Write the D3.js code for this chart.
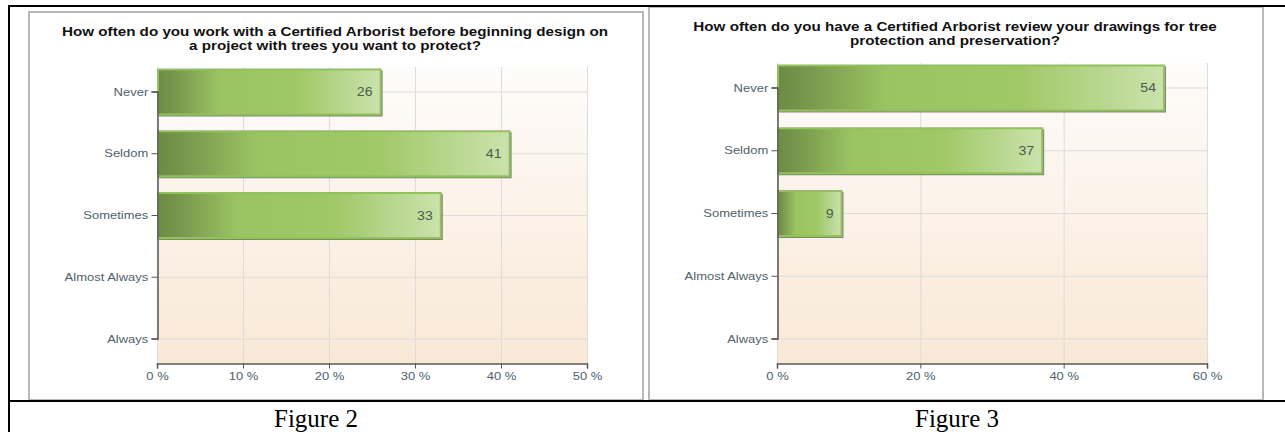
<!DOCTYPE html>
<html>
<head>
<meta charset="utf-8">
<script src="https://cdn.jsdelivr.net/npm/d3@7"></script>
<style>
  html, body { margin: 0; padding: 0; background: #fff; }
  svg { display: block; }
</style>
</head>
<body>
<svg id="page" width="1285" height="432"></svg>
<script>
// Survey answers (percent of respondents)
const categories = ["Never", "Seldom", "Sometimes", "Almost Always", "Always"];
const workBeforeDesign = [26, 41, 33, 0, 0];
const reviewDrawings = [54, 37, 9, 0, 0];

// Axis ticks
const ticksFig2 = [0, 10, 20, 30, 40, 50];
const ticksFig3 = [0, 20, 40, 60];

// Titles and captions
const titleFig2 = ["How often do you work with a Certified Arborist before beginning design on",
                   "a project with trees you want to protect?"];
const titleFig3 = ["How often do you have a Certified Arborist review your drawings for tree",
                   "protection and preservation?"];
const captions = ["Figure 2", "Figure 3"];

const svg = d3.select("#page");
const defs = svg.append("defs");

// Plot background: near-white at top fading to peach
const bg = defs.append("linearGradient").attr("id", "plotBg")
  .attr("x1", 0).attr("y1", 0).attr("x2", 0).attr("y2", 1);
bg.append("stop").attr("offset", "0%").attr("stop-color", "#fefcfa");
bg.append("stop").attr("offset", "100%").attr("stop-color", "#f9e8d6");

// Bar fill: dark olive on the left, mid green body, pale green toward the end
const bar = defs.append("linearGradient").attr("id", "barFill")
  .attr("x1", 0).attr("y1", 0).attr("x2", 1).attr("y2", 0);
[["0%", "#6c8a45"], ["10%", "#7c9c4f"], ["28%", "#9ac462"], ["62%", "#9fc866"], ["100%", "#cbe2ad"]]
  .forEach(([o, c]) => bar.append("stop").attr("offset", o).attr("stop-color", c));

const FONT = "'Liberation Sans', Arial, sans-serif";
const LABEL = "#4f5f6c";
const STRETCH = 1.16;   // chart lettering is set slightly wide

function drawChart(cfg) {
  const g = svg.append("g");

  // Chart frame
  g.append("rect")
    .attr("x", cfg.box[0]).attr("y", cfg.box[1])
    .attr("width", cfg.box[2] - cfg.box[0]).attr("height", cfg.box[3] - cfg.box[1])
    .attr("fill", "#fff").attr("stroke", "#b8b8b8").attr("stroke-width", 2);

  // Title
  cfg.title.forEach((line, i) => {
    g.append("text")
      .attr("transform", `translate(${cfg.titleX},${cfg.titleY + i * 14}) scale(${STRETCH},1)`)
      .attr("text-anchor", "middle")
      .attr("font-family", FONT).attr("font-weight", "bold").attr("font-size", 13.1)
      .attr("fill", "#111").text(line);
  });

  const x = d3.scaleLinear().domain([0, cfg.max]).range([cfg.left, cfg.right]);
  const y = d3.scalePoint().domain(categories).range([cfg.top + 24.5, cfg.bottom - 24.5]);

  // Plot area
  g.append("rect")
    .attr("x", cfg.left).attr("y", cfg.top)
    .attr("width", cfg.right - cfg.left).attr("height", cfg.bottom - cfg.top)
    .attr("fill", "url(#plotBg)");

  // Grid
  g.append("g").selectAll("line").data(cfg.ticks).join("line")
    .attr("x1", d => x(d) + 0.5).attr("x2", d => x(d) + 0.5)
    .attr("y1", cfg.top).attr("y2", cfg.bottom)
    .attr("stroke", "#dcdcdc").attr("stroke-width", 1);
  g.append("g").selectAll("line").data(categories).join("line")
    .attr("x1", cfg.left).attr("x2", cfg.right)
    .attr("y1", d => y(d) + 0.5).attr("y2", d => y(d) + 0.5)
    .attr("stroke", "#dcdcdc").attr("stroke-width", 1);

  // Bars
  const rows = categories.map((c, i) => ({ c, v: cfg.values[i] })).filter(d => d.v > 0);
  const bh = 46;
  const bars = g.append("g").selectAll("g").data(rows).join("g");
  bars.append("rect")   // drop shadow
    .attr("x", x(0) + 2).attr("y", d => y(d.c) - bh / 2 + 2)
    .attr("width", d => x(d.v) - x(0)).attr("height", bh)
    .attr("fill", "#6e6e6e").attr("opacity", 0.85);
  bars.append("rect")
    .attr("x", x(0) + 1).attr("y", d => y(d.c) - bh / 2 + 1)
    .attr("width", d => x(d.v) - x(0) - 1).attr("height", bh - 1)
    .attr("fill", "url(#barFill)")
    .attr("stroke", "#92c25b").attr("stroke-width", 2);
  bars.append("text")
    .attr("transform", d => `translate(${x(d.v) - 8},${y(d.c) + 4.5}) scale(${STRETCH},1)`)
    .attr("text-anchor", "end")
    .attr("font-family", FONT).attr("font-size", 12.2)
    .attr("fill", "#4a5b4c").text(d => d.v);

  // Axes
  const yAxis = g.append("g").attr("transform", `translate(${cfg.left + 0.5},0)`)
    .call(d3.axisLeft(y).tickSize(6).tickPadding(2));
  const xAxis = g.append("g").attr("transform", `translate(0,${cfg.bottom + 0.5})`)
    .call(d3.axisBottom(x).tickValues(cfg.ticks).tickSize(5).tickPadding(4).tickFormat(d => d + " %"));
  [yAxis, xAxis].forEach(a => {
    a.select(".domain").attr("stroke", "#555").attr("stroke-width", 1.5);
    a.selectAll(".tick line").attr("stroke", "#555");
    a.selectAll(".tick text")
      .attr("font-family", FONT).attr("font-size", 11.2).attr("fill", LABEL)
      .attr("transform", `scale(${STRETCH},1)`);
  });
}

drawChart({
  values: workBeforeDesign, ticks: ticksFig2, max: 50, title: titleFig2,
  box: [29, 12, 643, 400], titleX: 335, titleY: 36,
  left: 157, right: 587, top: 67, bottom: 363
});
drawChart({
  values: reviewDrawings, ticks: ticksFig3, max: 60, title: titleFig3,
  box: [649, 7, 1263, 400], titleX: 955, titleY: 31,
  left: 777, right: 1207, top: 63, bottom: 363
});

// Table rules around the two figures
const rules = svg.append("g").attr("stroke", "#000");
rules.append("line").attr("x1", 8).attr("x2", 1285).attr("y1", 6).attr("y2", 6).attr("stroke-width", 2);
rules.append("line").attr("x1", 9).attr("x2", 9).attr("y1", 5).attr("y2", 432).attr("stroke-width", 2);
rules.append("line").attr("x1", 8).attr("x2", 1285).attr("y1", 401).attr("y2", 401).attr("stroke-width", 2);

// Captions
svg.append("g").selectAll("text").data(captions).join("text")
  .attr("x", (d, i) => [316, 957][i]).attr("y", 427)
  .attr("text-anchor", "middle")
  .attr("font-family", "'Liberation Serif', 'Times New Roman', serif").attr("font-size", 25)
  .attr("fill", "#000").text(d => d);
</script>
</body>
</html>
